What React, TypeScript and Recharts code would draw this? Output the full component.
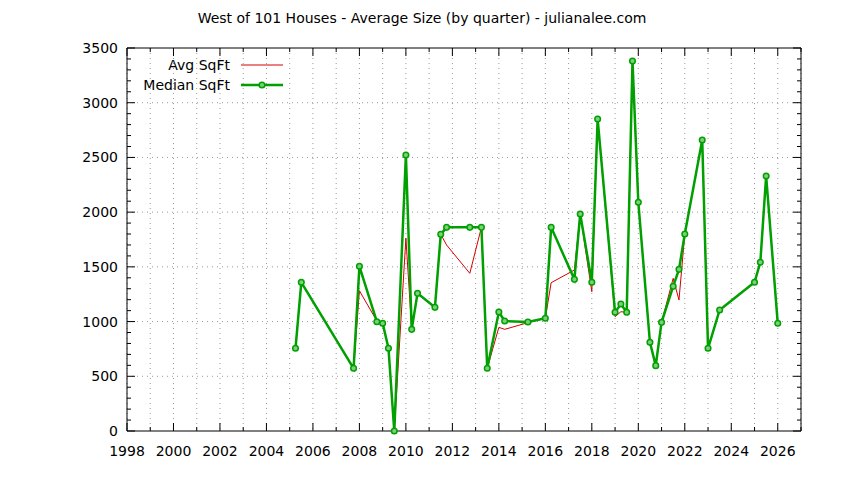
import React from 'react';
import {
  LineChart,
  Line,
  XAxis,
  YAxis,
  CartesianGrid,
  ReferenceLine,
  Legend,
} from 'recharts';

// quarter positions (decimal year) and square footage
const quarters = [
  2005.25, 2005.5, 2007.75, 2008.0, 2008.75, 2009.0, 2009.25, 2009.5, 2010.0,
  2010.25, 2010.5, 2011.25, 2011.5, 2011.75, 2012.75, 2013.25, 2013.5, 2014.0,
  2014.25, 2015.25, 2016.0, 2016.25, 2017.25, 2017.5, 2018.0, 2018.25, 2019.0,
  2019.25, 2019.5, 2019.75, 2020.0, 2020.5, 2020.75, 2021.0, 2021.5, 2021.75,
  2022.0, 2022.75, 2023.0, 2023.5, 2025.0, 2025.25, 2025.5, 2026.0,
];
const avgSqft = [
  756, 1359, 573, 1282, 1005, 984, 756, 0, 1761,
  929, 1258, 1130, 1797, 1700, 1441, 1861, 573, 947,
  929, 990, 1030, 1355, 1471, 1983, 1273, 2851, 1045,
  1090, 1085, 3381, 2090, 811, 597, 993, 1395, 1197,
  1800, 2659, 756, 1106, 1359, 1542, 2330, 984,
];
const medianSqft = [
  756, 1359, 573, 1505, 999, 984, 756, 0, 2522,
  929, 1258, 1130, 1797, 1861, 1861, 1861, 573, 1087,
  1005, 996, 1030, 1861, 1386, 1983, 1359, 2851, 1085,
  1160, 1085, 3381, 2090, 811, 597, 993, 1322, 1477,
  1800, 2659, 756, 1106, 1359, 1542, 2330, 984,
];
const yearTicks = [
  1998, 1999, 2000, 2001, 2002, 2003, 2004, 2005, 2006, 2007, 2008, 2009, 2010,
  2011, 2012, 2013, 2014, 2015, 2016, 2017, 2018, 2019, 2020, 2021, 2022, 2023,
  2024, 2025, 2026, 2027,
];
const sqftTicks = [
  0, 100, 200, 300, 400, 500, 600, 700, 800, 900, 1000, 1100, 1200, 1300, 1400,
  1500, 1600, 1700, 1800, 1900, 2000, 2100, 2200, 2300, 2400, 2500, 2600, 2700,
  2800, 2900, 3000, 3100, 3200, 3300, 3400, 3500,
];
const sqftLabels = [0, 500, 1000, 1500, 2000, 2500, 3000, 3500];

const data = quarters.map((q, i) => ({
  q,
  avg: avgSqft[i],
  median: medianSqft[i],
}));

const FONT = '"DejaVu Sans", sans-serif';
const RED = '#d40000';
const GREEN = '#00a000';

const BottomTick = ({ x, y, payload }: any) => {
  const major = payload.value % 2 === 0;
  return (
    <g>
      <line x1={x} x2={x} y1={y} y2={y - (major ? 8 : 4)} stroke="#000" />
      {major && payload.value < 2027 && (
        <text x={x} y={y + 25} textAnchor="middle" fontSize={14} fontFamily={FONT} fill="#000">
          {payload.value}
        </text>
      )}
    </g>
  );
};

const TopTick = ({ x, y, payload }: any) => {
  const major = payload.value % 2 === 0;
  return <line x1={x} x2={x} y1={y} y2={y + (major ? 8 : 4)} stroke="#000" />;
};

const LeftTick = ({ x, y, payload }: any) => {
  const major = payload.value % 500 === 0;
  return (
    <g>
      <line x1={x} x2={x + (major ? 8 : 4)} y1={y} y2={y} stroke="#000" />
      {major && (
        <text x={x - 9} y={y + 5} textAnchor="end" fontSize={14} fontFamily={FONT} fill="#000">
          {payload.value}
        </text>
      )}
    </g>
  );
};

const RightTick = ({ x, y, payload }: any) => {
  const major = payload.value % 500 === 0;
  return <line x1={x} x2={x - (major ? 8 : 4)} y1={y} y2={y} stroke="#000" />;
};

const LegendBox = ({ payload }: any) => (
  <div style={{ fontFamily: FONT, fontSize: 14, color: '#000' }}>
    {(payload || [])
      .filter((p: any) => p.type !== 'none' && p.value)
      .map((p: any) => (
        <div key={p.value} style={{ display: 'flex', alignItems: 'center', justifyContent: 'flex-end', height: 20 }}>
          <span>{p.value}</span>
          <svg width={53} height={20} style={{ flexShrink: 0 }}>
            <line
              x1={11}
              x2={53}
              y1={10}
              y2={10}
              stroke={p.color}
              strokeWidth={p.dataKey === 'median' ? 2.5 : 1}
            />
            {p.dataKey === 'median' && (
              <circle cx={32} cy={10} r={2.8} stroke={p.color} strokeWidth={1.5} fill="#7ccf7c" />
            )}
          </svg>
        </div>
      ))}
  </div>
);

export default function App() {
  return (
    <div style={{ position: 'absolute', left: 0, top: 0, width: 844, height: 480, background: '#fff' }}>
      <div
        style={{
          position: 'absolute',
          left: 0,
          top: 10,
          width: 844,
          textAlign: 'center',
          fontFamily: FONT,
          fontSize: 14,
          color: '#000',
        }}
      >
        West of 101 Houses - Average Size (by quarter) - julianalee.com
      </div>
      <LineChart
        width={844}
        height={480}
        data={data}
        margin={{ top: 47, right: 42, left: 67, bottom: 19 }}
      >
        <CartesianGrid
          xAxisId="b"
          yAxisId="l"
          horizontal={false}
          stroke="#999"
          strokeDasharray="1 4"
        />
        {sqftLabels.slice(1, -1).map((v) => (
          <ReferenceLine
            key={v}
            xAxisId="b"
            yAxisId="l"
            y={v}
            stroke="#999"
            strokeDasharray="1 4"
          />
        ))}
        <XAxis
          xAxisId="b"
          dataKey="q"
          type="number"
          domain={[1998, 2027]}
          ticks={yearTicks}
          interval={0}
          tick={<BottomTick />}
          tickSize={0}
          tickMargin={0}
          tickLine={false}
          axisLine={{ stroke: '#000' }}
          height={30}
        />
        <XAxis
          xAxisId="t"
          orientation="top"
          dataKey="q"
          type="number"
          domain={[1998, 2027]}
          ticks={yearTicks}
          interval={0}
          tick={<TopTick />}
          tickSize={0}
          tickMargin={0}
          tickLine={false}
          axisLine={{ stroke: '#000' }}
          height={1}
        />
        <YAxis
          yAxisId="l"
          type="number"
          domain={[0, 3500]}
          ticks={sqftTicks}
          interval={0}
          tick={<LeftTick />}
          tickSize={0}
          tickMargin={0}
          tickLine={false}
          axisLine={{ stroke: '#000' }}
          width={60}
        />
        <YAxis
          yAxisId="r"
          orientation="right"
          type="number"
          domain={[0, 3500]}
          ticks={sqftTicks}
          interval={0}
          tick={<RightTick />}
          tickSize={0}
          tickMargin={0}
          tickLine={false}
          axisLine={{ stroke: '#000' }}
          width={1}
        />
        <Legend
          layout="vertical"
          verticalAlign="middle"
          align="center"
          content={<LegendBox />}
          wrapperStyle={{ position: 'absolute', left: 100, top: 55, width: 183 }}
        />
        {/* invisible series so the mirrored top/right axes get a scale */}
        <Line
          xAxisId="t"
          yAxisId="r"
          type="linear"
          dataKey="median"
          stroke="none"
          dot={false}
          legendType="none"
          isAnimationActive={false}
        />
        <Line
          xAxisId="b"
          yAxisId="l"
          type="linear"
          dataKey="avg"
          name="Avg SqFt"
          stroke={RED}
          strokeWidth={1}
          dot={false}
          isAnimationActive={false}
        />
        <Line
          xAxisId="b"
          yAxisId="l"
          type="linear"
          dataKey="median"
          name="Median SqFt"
          stroke={GREEN}
          strokeWidth={2.5}
          dot={{ r: 2.8, stroke: GREEN, strokeWidth: 1.5, fill: '#7ccf7c' }}
          isAnimationActive={false}
        />
      </LineChart>
    </div>
  );
}
